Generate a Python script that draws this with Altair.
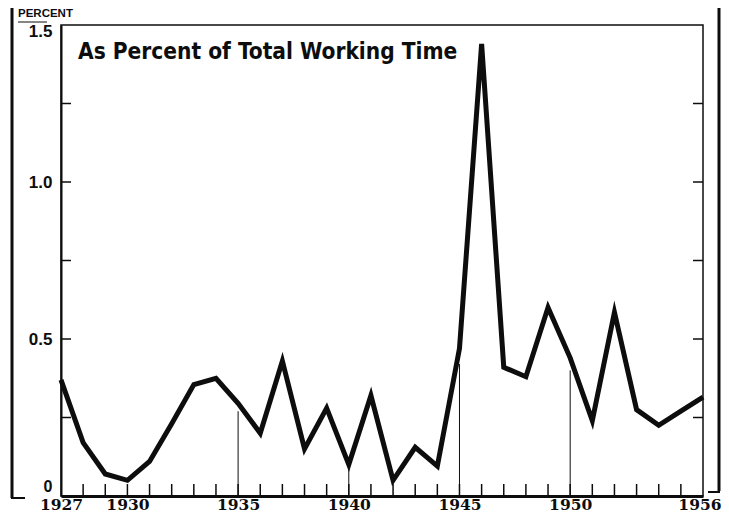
import altair as alt
import pandas as pd

years = list(range(1927, 1957))
values = [0.37, 0.17, 0.07, 0.05, 0.11, 0.23, 0.355, 0.375, 0.295, 0.20,
          0.43, 0.15, 0.28, 0.10, 0.32, 0.05, 0.155, 0.095, 0.47, 1.44,
          0.41, 0.38, 0.60, 0.44, 0.24, 0.585, 0.275, 0.225, 0.27, 0.315]

x_label_years = [1927, 1930, 1935, 1940, 1945, 1950, 1956]
y_label_values = [0, 0.5, 1.0, 1.5]
y_minor_ticks = [0.25, 0.5, 0.75, 1.0, 1.25]
drop_years = [1935, 1940, 1945, 1950]
drop_tops = [0.27, 0.09, 0.42, 0.40]

title_text = "As Percent of Total Working Time"
unit_text = "PERCENT"

INK = "#0d0d0d"
W, H = 642, 471

df = pd.DataFrame({"year": years, "value": values})
drops = pd.DataFrame({"year": drop_years, "top": drop_tops})
yt = pd.DataFrame({"v": y_minor_ticks})
xt = pd.DataFrame({"year": years[1:-1]})

xscale = alt.Scale(domain=[1927, 1956], nice=False, zero=False)
yscale = alt.Scale(domain=[0, 1.5], nice=False)

last_year = x_label_years[-1]
xaxis = alt.Axis(values=x_label_years, format="d", ticks=False, grid=False,
                 domainColor=INK, domainWidth=3, labelFont="DejaVu Serif",
                 labelFontWeight="bold", labelFontSize=15.5, labelColor=INK,
                 labelPadding=1, labelOverlap=False, labelFlush=False, title=None,
                 labelAlign={"condition": {"test": f"datum.value == {last_year}", "value": "right"},
                             "value": "center"},
                 labelOffset={"condition": {"test": f"datum.value == {last_year}", "value": 18},
                              "value": 0})
yaxis = alt.Axis(values=y_label_values, ticks=False, grid=False,
                 labelExpr="datum.value == 0 ? '0' : format(datum.value, '.1f')",
                 domainColor=INK, domainWidth=2, labelFont="Liberation Sans",
                 labelFontWeight="bold", labelColor=INK,
                 labelFontSize={"condition": {"test": "datum.value == 0", "value": 16}, "value": 17},
                 labelPadding=9, title=None, labelOverlap=False, labelFlush=False,
                 labelOffset={"condition": [
                     {"test": "datum.value == 0", "value": -10},
                     {"test": "datum.value == 1.5", "value": 6}],
                     "value": 0})

line = alt.Chart(df).mark_line(color=INK, strokeWidth=5, strokeJoin="miter", strokeMiterLimit=10).encode(
    x=alt.X("year:Q", scale=xscale, axis=xaxis),
    y=alt.Y("value:Q", scale=yscale, axis=yaxis),
)

drop_rules = alt.Chart(drops).mark_rule(color=INK, strokeWidth=1).encode(
    x=alt.X("year:Q", scale=xscale, axis=xaxis),
    y=alt.Y("top:Q", scale=yscale, axis=yaxis),
    y2=alt.datum(0),
)

left_ticks = alt.Chart(yt).mark_rule(color=INK, strokeWidth=1.5).encode(
    y=alt.Y("v:Q", scale=yscale, axis=yaxis),
    x=alt.value(0), x2=alt.value(10),
)
right_ticks = alt.Chart(yt).mark_rule(color=INK, strokeWidth=1.5).encode(
    y=alt.Y("v:Q", scale=yscale, axis=yaxis),
    x=alt.value(W - 10), x2=alt.value(W),
)
bottom_ticks = alt.Chart(xt).mark_rule(color=INK, strokeWidth=1.5).encode(
    x=alt.X("year:Q", scale=xscale, axis=xaxis),
    y=alt.value(H - 12), y2=alt.value(H),
)

title = alt.Chart(pd.DataFrame({"t": [title_text]})).mark_text(
    align="left", baseline="alphabetic", font="Liberation Sans Narrow, DejaVu Sans Condensed, Liberation Sans",
    fontWeight="bold", fontSize=22.5, color=INK,
).encode(x=alt.value(17), y=alt.value(34), text="t:N")

unit = alt.Chart(pd.DataFrame({"t": [unit_text]})).mark_text(
    align="left", baseline="alphabetic", font="Liberation Sans", fontWeight="bold",
    fontSize=11.5, color=INK,
).encode(x=alt.value(-43), y=alt.value(-8), text="t:N")

unit_line = alt.Chart(pd.DataFrame({"t": [unit_text]})).mark_rule(color=INK, strokeWidth=1).encode(
    x=alt.value(-43), x2=alt.value(-14), y=alt.value(-3)
)

frame_left = alt.Chart(pd.DataFrame({"t": [0]})).mark_rule(color=INK, strokeWidth=3).encode(
    x=alt.value(-49), y=alt.value(-25), y2=alt.value(H + 2)
)
frame_left_foot = alt.Chart(pd.DataFrame({"t": [0]})).mark_rule(color=INK, strokeWidth=2).encode(
    x=alt.value(-50), x2=alt.value(-36), y=alt.value(H + 2)
)
frame_right = alt.Chart(pd.DataFrame({"t": [0]})).mark_rule(color=INK, strokeWidth=3).encode(
    x=alt.value(W + 16), y=alt.value(-25), y2=alt.value(H - 5)
)
frame_right_foot = alt.Chart(pd.DataFrame({"t": [0]})).mark_rule(color=INK, strokeWidth=2).encode(
    x=alt.value(W + 5), x2=alt.value(W + 17), y=alt.value(H - 4)
)

chart = alt.layer(
    line, drop_rules, left_ticks, right_ticks, bottom_ticks, title, unit, unit_line,
    frame_left, frame_left_foot, frame_right, frame_right_foot,
).properties(
    width=W, height=H,
    autosize=alt.AutoSizeParams(type="none"),
    padding={"left": 53, "top": 17, "right": 18, "bottom": 18},
    background="white",
).configure_view(stroke=INK, strokeWidth=1.5)

chart.save("out.html", embed_options={"renderer": "svg", "actions": False})
